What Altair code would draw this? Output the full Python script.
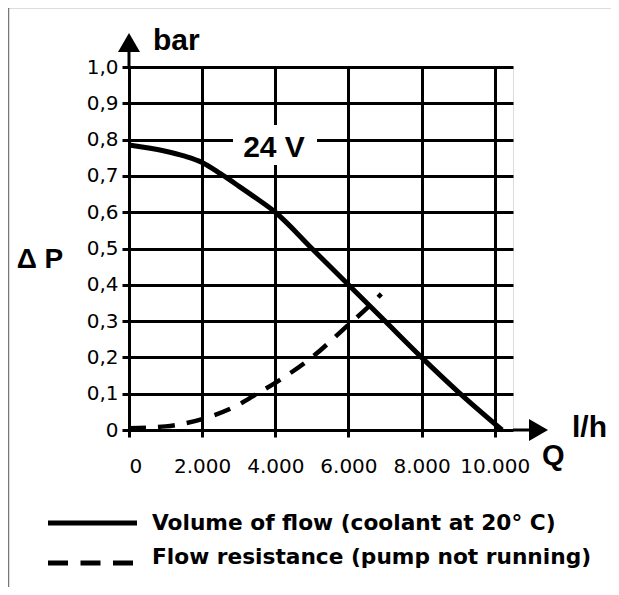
import altair as alt
import pandas as pd

# --- data ---
solid_q = [0, 1000, 1500, 2000, 2500, 3000, 3500, 4000, 5000, 6000, 7000, 8000, 9000, 10200]
solid_p = [0.785, 0.768, 0.755, 0.737, 0.706, 0.672, 0.637, 0.60, 0.50, 0.40, 0.30, 0.20, 0.105, 0.0]

dash_q = [0, 1000, 2000, 3000, 3500, 4000, 5000, 6000, 6500, 6900]
dash_p = [0.005, 0.01, 0.03, 0.07, 0.10, 0.13, 0.20, 0.29, 0.335, 0.375]

x_ticks = [0, 2000, 4000, 6000, 8000, 10000]
y_ticks = [0, 0.1, 0.2, 0.3, 0.4, 0.5, 0.6, 0.7, 0.8, 0.9, 1.0]

legend_labels = ["Volume of flow (coolant at 20° C)", "Flow resistance (pump not running)"]
curve_label = "24 V"
y_unit = "bar"
y_name = "Δ P"
x_unit = "l/h"
x_name = "Q"

W, H = 384, 363

solid_df = pd.DataFrame({"q": solid_q, "p": solid_p})
dash_df = pd.DataFrame({"q": dash_q, "p": dash_p})
one = pd.DataFrame({"k": [0]})

xscale = alt.Scale(domain=[0, 10500], nice=False, zero=False)
yscale = alt.Scale(domain=[0, 1], nice=False, zero=False)

xaxis = alt.Axis(values=x_ticks, title=None, grid=True, gridColor="black", gridWidth=3,
                 gridOpacity=1, domain=False, ticks=True, tickSize=7, tickWidth=3,
                 tickColor="black", labelFont="DejaVu Sans", labelFontSize=20,
                 labelColor="black", labelPadding=19, labelOverlap=False,
                 labelExpr="replace(format(datum.value, ','), ',', '.')")
yaxis = alt.Axis(values=y_ticks, title=None, grid=True, gridColor="black", gridWidth=3,
                 gridOpacity=1, domain=False, ticks=True, tickSize=7, tickWidth=3,
                 tickColor="black", labelFont="DejaVu Sans", labelFontSize=20,
                 labelColor="black", labelPadding=4, labelOverlap=False,
                 labelExpr="datum.value == 0 ? '0' : replace(format(datum.value, '.1f'), '.', ',')")

solid = alt.Chart(solid_df).mark_line(color="black", strokeWidth=5, interpolate="monotone").encode(
    x=alt.X("q:Q", scale=xscale, axis=xaxis),
    y=alt.Y("p:Q", scale=yscale, axis=yaxis),
)
dashed = alt.Chart(dash_df).mark_line(color="black", strokeWidth=4.5, strokeDash=[17, 12],
                                      interpolate="monotone").encode(
    x=alt.X("q:Q", scale=xscale, axis=xaxis),
    y=alt.Y("p:Q", scale=yscale, axis=yaxis))

# white box behind the "24 V" label
box = alt.Chart(one).mark_rect(fill="white").encode(
    x=alt.value(104), x2=alt.value(188), y=alt.value(58), y2=alt.value(98))

def txt(s, x, y, font, size, align="left"):
    return alt.Chart(one).mark_text(text=s, font=font, fontSize=size, fontWeight="bold",
                                    align=align, baseline="alphabetic", color="black").encode(
        x=alt.value(x), y=alt.value(y))

def rule(x1, x2, y1, y2, w=3, color="black", dash=None):
    kw = dict(color=color, strokeWidth=w)
    if dash:
        kw["strokeDash"] = dash
    return alt.Chart(one).mark_rule(**kw).encode(
        x=alt.value(x1), x2=alt.value(x2), y=alt.value(y1), y2=alt.value(y2))

arrow_up = alt.Chart(one).mark_point(shape="triangle-up", filled=True, size=484, color="black",
                                     opacity=1).encode(x=alt.value(0), y=alt.value(-24.5))
arrow_right = alt.Chart(one).mark_point(shape="triangle-right", filled=True, size=484, color="black",
                                        opacity=1).encode(x=alt.value(409.5), y=alt.value(363))

layers = [
    solid,
    box,
    dashed,
    rule(0, 0, 0, -17),
    rule(W, 401, H, H),
    arrow_up,
    arrow_right,
    txt(curve_label, 145, 90, "Liberation Sans", 30, "center"),
    txt(y_unit, 24, -17, "Liberation Sans", 30),
    txt(y_name, -89, 201, "Liberation Sans", 28, "center"),
    txt(x_unit, 443, 370, "Liberation Sans", 30),
    txt(x_name, 413, 398, "Liberation Sans", 29),
    rule(-81, 8, 456, 456, w=5),
    rule(-81, 4, 496, 496, w=5, dash=[20, 12.5]),
    txt(legend_labels[0], 23, 463, "DejaVu Sans", 21.7),
    txt(legend_labels[1], 23, 497, "DejaVu Sans", 21.7),
    # frame of the figure
    rule(-120.5, 500, -59.5, -59.5, w=1.5, color="#777777"),
    rule(-120.5, -120.5, -59.5, 530, w=1.5, color="#777777"),
]

chart = alt.layer(*layers).properties(
    width=W, height=H,
    autosize=alt.AutoSizeParams(type="none"),
    padding={"left": 121, "top": 59, "right": 98, "bottom": 157},
).configure_view(stroke="black", strokeWidth=3).configure(background="white")

chart.save("out.html", embed_options={"renderer": "svg", "actions": False})
